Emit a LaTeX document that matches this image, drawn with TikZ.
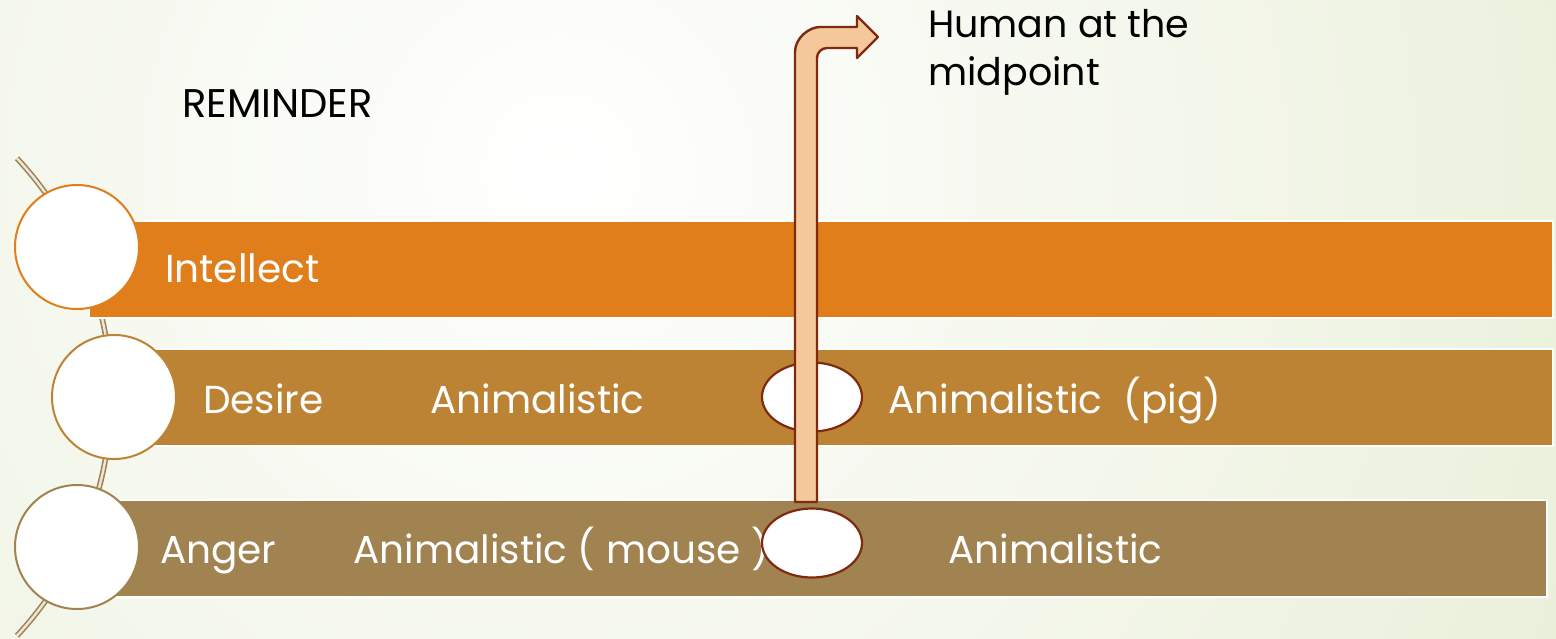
\documentclass[tikz,border=0pt]{standalone}
\usepackage{fontspec}
\setmainfont{Poppins}
\usetikzlibrary{shapes.geometric}
\definecolor{intel}{HTML}{DF7E1B}
\definecolor{desire}{HTML}{BD8334}
\definecolor{anger}{HTML}{A08350}
\definecolor{peach}{HTML}{F5C89C}
\definecolor{rust}{HTML}{7F2A0F}
\definecolor{bggreen}{HTML}{DAE4BE}
\begin{document}
\begin{tikzpicture}[x=1pt,y=-1pt,line join=round,
  bar/.style={draw=white,line width=2pt,minimum height=97,anchor=north west,inner sep=0},
  disc/.style={circle,fill=white,line width=2pt,minimum size=124,inner sep=0},
  oval/.style={ellipse,draw=rust,fill=white,line width=2.2pt,minimum width=100,minimum height=69,inner sep=0},
  lbl/.style={anchor=base west,inner sep=0,text=white,font=\fontsize{39}{47}\selectfont},
  blk/.style={anchor=base west,inner sep=0,font=\fontsize{38}{48}\selectfont}]
\useasboundingbox (0,0) rectangle (1556,638);
\begin{scope}
\clip (0,0) rectangle (1556,638);
\shade[inner color=white,outer color=bggreen] (560,170) circle (2000);
\end{scope}
% spine behind the discs
\draw[anger,line width=1.6pt,double=anger!20!white,double distance=2.4pt] (-239,397) ++(43:350pt) arc[start angle=43,end angle=-43,radius=350pt];
% the three bands
\node[bar,fill=intel,minimum width=1464] (intellect) at (88,220) {};
\node[bar,fill=desire,minimum width=1437] (desire) at (115,348) {};
\node[bar,fill=anger,minimum width=1458] (anger) at (88,499) {};
\foreach \n/\c/\x/\y in {c1/intel/77/247,c2/desire/114/397,c3/anger/77/547}{\node[disc,draw=\c] (\n) at (\x,\y) {};}
\node[lbl] (tintellect) at (165,282) {Intellect};
\node[lbl] (tdesire) at (203,413) {Desire};
\node[lbl] (tanimal1) at (430,413) {Animalistic};
\node[lbl] (tpig) at (888,413) {Animalistic\ \ (pig)};
\node[lbl] (tanger) at (160,563) {Anger};
\node[lbl] (tmouse) at (353,563) {Animalistic ( mouse )};
\node[lbl] (tanimal2) at (948,563) {Animalistic};
\node[blk,font=\fontsize{40}{48}\selectfont] (reminder) at (182,117) {REMINDER};
\node[blk] (human1) at (928,37) {Human at the};
\node[blk] (human2) at (928,85) {midpoint};
\node[oval] (pig) at (812,397) {};
\node[oval] (mouse) at (812,543) {};
% bent arrow up to the midpoint
\draw[rust,fill=peach,line width=2.4pt] (795,502) -- (795,52) .. controls (795,38) and (809,27) .. (820,27) -- (857,27) -- (857,16) -- (878,37) -- (857,58) -- (857,48) -- (827,48) .. controls (821.5,48) and (817,52.5) .. (817,58) -- (817,502) -- cycle;
\end{tikzpicture}
\end{document}
